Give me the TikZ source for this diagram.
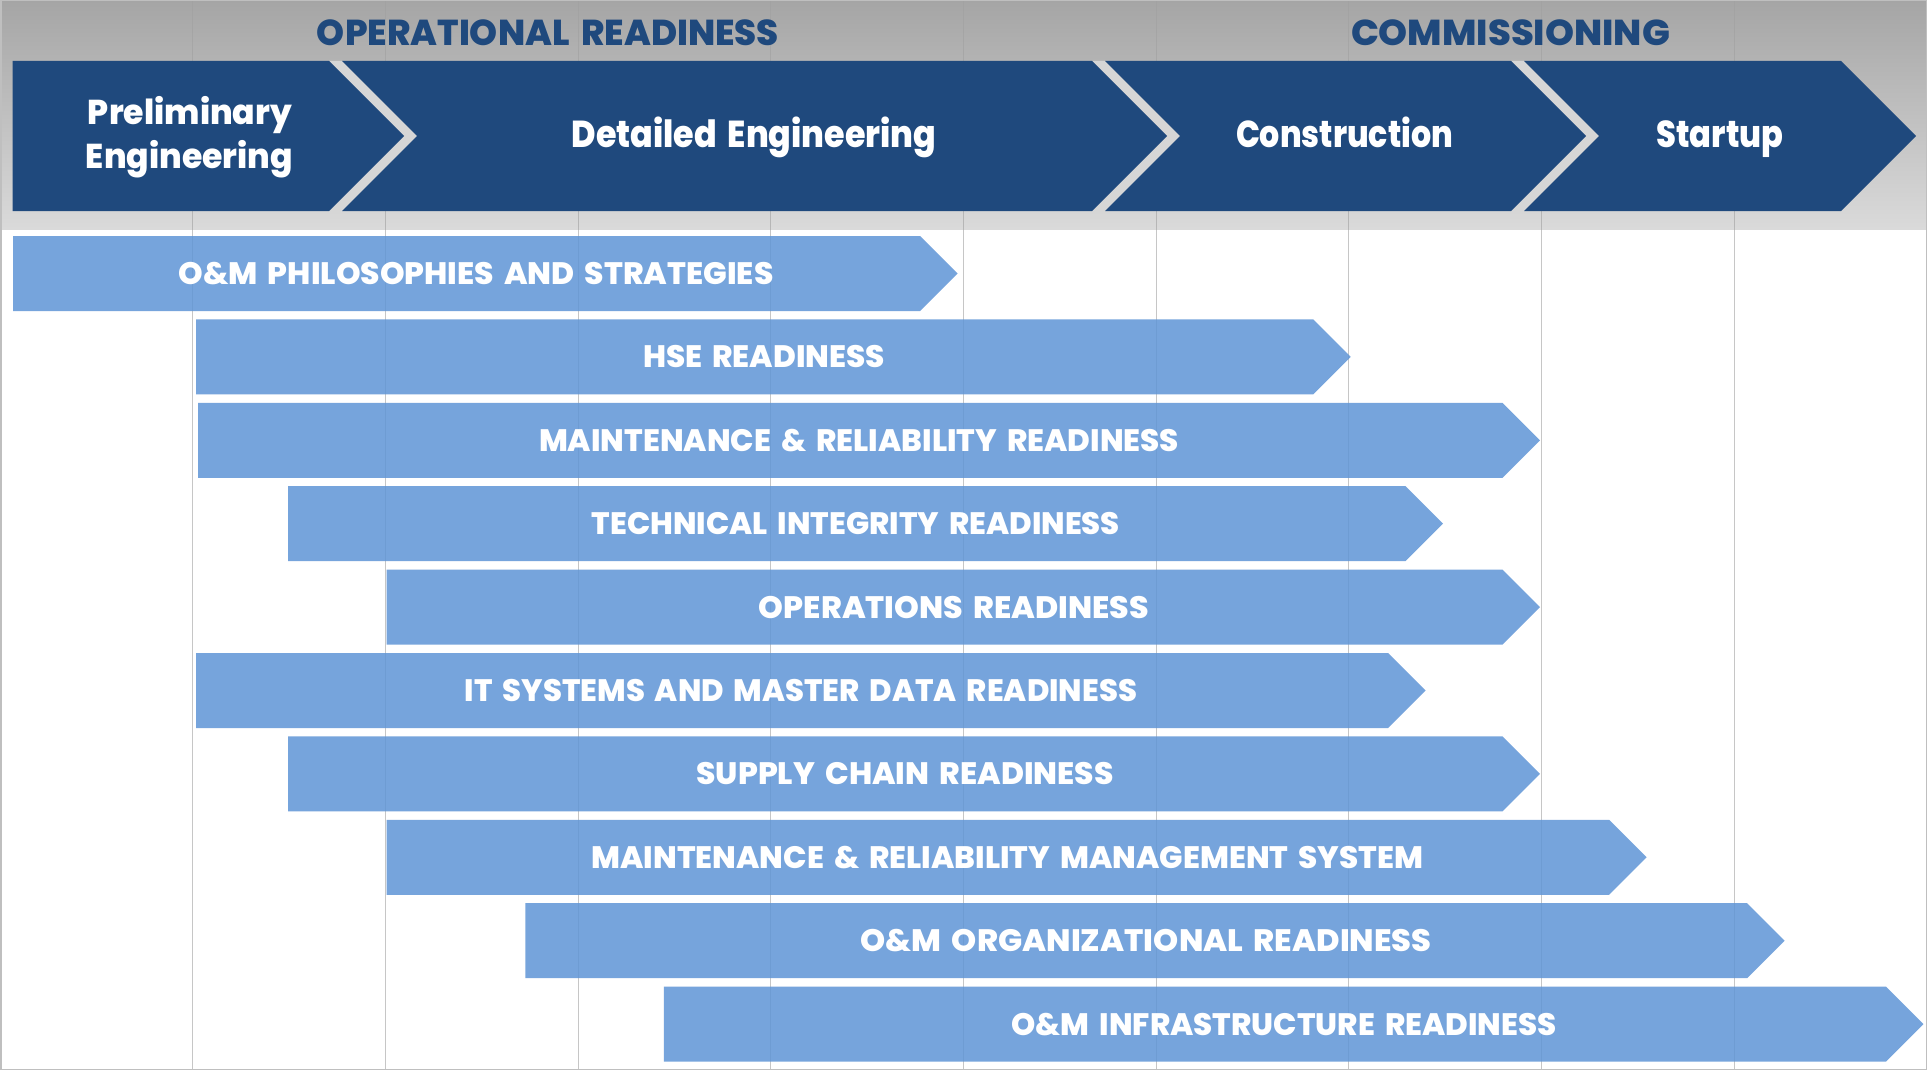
\documentclass[tikz,border=0pt]{standalone}
\usepackage{fontspec}
\usepackage{graphicx}
\setmainfont{Poppins}[BoldFont={Poppins ExtraBold}, WordSpace=1.7]
\definecolor{navy}{HTML}{1F497D}
\definecolor{barblue}{HTML}{5F95D6}
\definecolor{hdrtop}{HTML}{A5A5A5}
\definecolor{hdrbot}{HTML}{DADADA}
\definecolor{stripe}{HTML}{D6D6D6}
\definecolor{gridc}{HTML}{A0A0A0}
\definecolor{frame}{HTML}{BFBFBF}
\newcommand\fitw[2]{\resizebox{#1pt}{\height}{#2}}
\begin{document}
\begin{tikzpicture}[x=1pt,y=-1pt,
  hdr/.style={text=navy, font=\bfseries\fontsize{36}{40}\selectfont, anchor=base, inner sep=0pt},
  chevtext/.style={text=white, font=\bfseries\fontsize{37.5}{44}\selectfont, anchor=base, inner sep=0pt},
  chevtwo/.style={chevtext, font=\bfseries\fontsize{34.5}{44}\selectfont},
  bartext/.style={text=white, font=\bfseries\fontsize{31}{36}\selectfont, anchor=base, inner sep=0pt},
  chevfill/.style={fill=navy},
  stripefill/.style={fill=stripe},
  barfill/.style={fill=barblue, fill opacity=0.85},
  gridline/.style={draw=gridc, draw opacity=0.6, line width=1pt}]
\useasboundingbox (0,0) rectangle (1927,1070);
\fill[white] (0,0) rectangle (1927,1070);
% header band
\shade[top color=hdrtop, bottom color=hdrbot] (0,0) rectangle (1927,229);
% grid lines
\foreach \k in {1,...,9}{
  \draw[gridline] (192.7*\k,0) -- (192.7*\k,1070);
}
% stripes between chevrons
\fill[stripefill] (329,61) -- (342,61) -- (417,136) -- (342,211) -- (329,211) -- (404,136) -- cycle;
\fill[stripefill] (1092,61) -- (1105,61) -- (1180,136) -- (1105,211) -- (1092,211) -- (1167,136) -- cycle;
\fill[stripefill] (1511,61) -- (1524,61) -- (1599,136) -- (1524,211) -- (1511,211) -- (1586,136) -- cycle;
% chevrons
\fill[chevfill] (12.5,61) -- (329,61) -- (404,136) -- (329,211) -- (12.5,211) -- cycle;
\fill[chevfill] (342,61) -- (1092,61) -- (1167,136) -- (1092,211) -- (342,211) -- (417,136) -- cycle;
\fill[chevfill] (1105,61) -- (1511,61) -- (1586,136) -- (1511,211) -- (1105,211) -- (1180,136) -- cycle;
\fill[chevfill] (1524,61) -- (1841,61) -- (1916,136) -- (1841,211) -- (1524,211) -- (1599,136) -- cycle;
% header titles
\node[hdr] (opr) at (548,46) {\fitw{462}{OPERATIONAL READINESS}};
\node[hdr] (com) at (1510.5,46) {\fitw{319}{COMMISSIONING}};
% chevron labels
\node[chevtwo] (prelA) at (190,124.5) {\fitw{204}{Preliminary}};
\node[chevtwo] (prelB) at (189.5,168.5) {\fitw{207}{Engineering}};
\node[chevtext] (det) at (754,147) {\fitw{365}{Detailed Engineering}};
\node[chevtext] (con) at (1344.5,147) {\fitw{217}{Construction}};
\node[chevtext] (sta) at (1720,147) {\fitw{127}{Startup}};
% readiness bars
\foreach \L/\T/\C/\W/\txt [count=\i] in {
  13/957.6/476/595/{O\&M PHILOSOPHIES AND STRATEGIES},
  196/1350.7/764/242/{HSE READINESS},
  198/1540/859/640/{MAINTENANCE \& RELIABILITY READINESS},
  288/1443/856/528/{TECHNICAL INTEGRITY READINESS},
  386.6/1540/954/390/{OPERATIONS READINESS},
  196/1425.7/801/672/{IT SYSTEMS AND MASTER DATA READINESS},
  288/1540/905/417/{SUPPLY CHAIN READINESS},
  386.6/1646.6/1007.5/832/{MAINTENANCE \& RELIABILITY MANAGEMENT SYSTEM},
  525.4/1784.6/1146/571/{O\&M ORGANIZATIONAL READINESS},
  663.8/1923.4/1284/545/{O\&M INFRASTRUCTURE READINESS}}{
  \pgfmathsetmacro\yt{236+83.4*(\i-1)}
  \fill[barfill] (\L,\yt) -- (\T-37.5,\yt) -- (\T,\yt+37.5) -- (\T-37.5,\yt+75) -- (\L,\yt+75) -- cycle;
  \node[bartext] (bar\i) at (\C,\yt+48.4) {\fitw{\W}{\txt}};
}
% frame
\draw[frame, line width=1.5pt] (0.75,0.75) rectangle (1926.25,1069.25);
\end{tikzpicture}
\end{document}
